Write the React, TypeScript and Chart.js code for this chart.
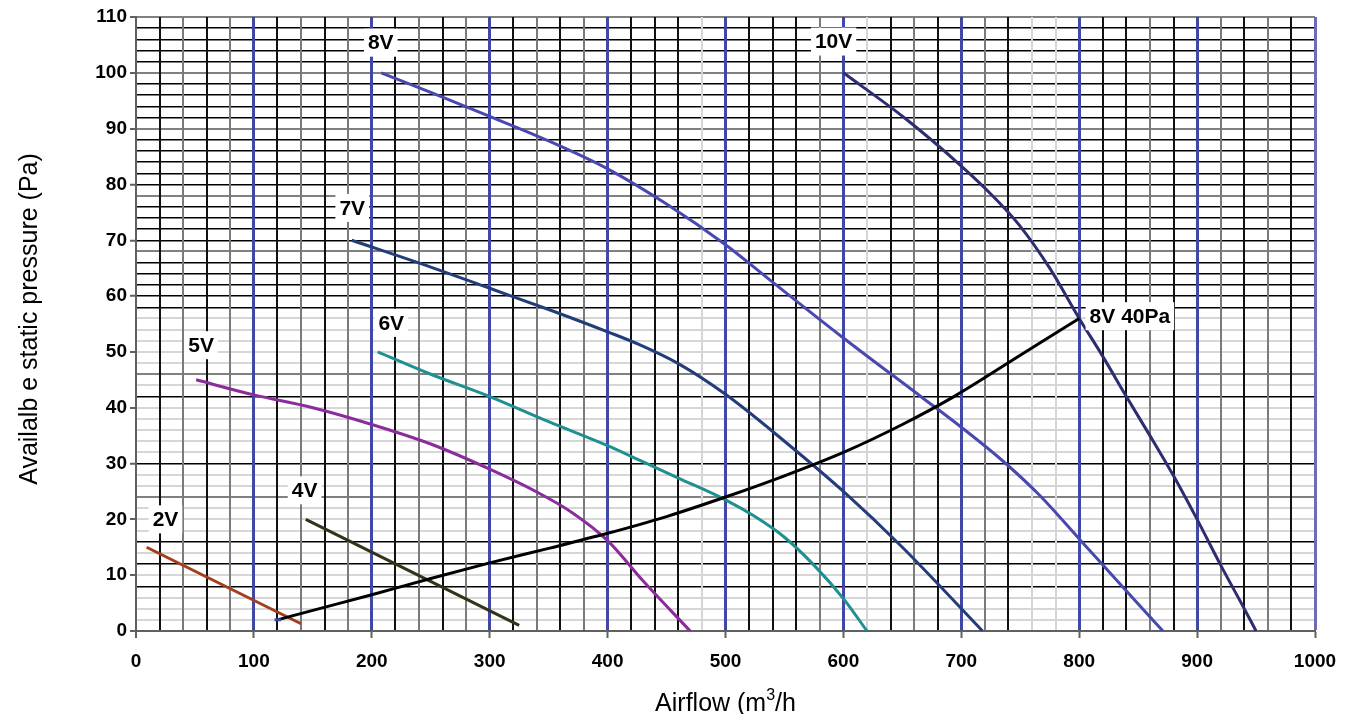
import React, { useEffect, useRef } from "react";
import { Chart, registerables } from "chart.js";

Chart.register(...registerables);

// ---- Axis ranges / ticks ----
const X_MIN = 0;
const X_MAX = 1000;
const X_STEP = 20;
const X_LABEL_EVERY = 100;
const Y_MIN = 0;
const Y_MAX = 110;
const Y_STEP = 2;
const Y_LABEL_EVERY = 10;

// ---- Series (airflow m3/h, pressure Pa) ----
const V2_X = [9, 140];
const V2_Y = [15, 1.3];

const V4_X = [144, 325];
const V4_Y = [20, 1];

const V5_X = [51, 100, 150, 200, 250, 300, 340, 370, 400, 430, 470];
const V5_Y = [45, 42.3, 40, 37, 33.5, 29, 24.9, 21.2, 16.2, 9, 0];

const V6_X = [205, 250, 300, 350, 400, 427, 460, 500, 525, 550, 575, 600, 620];
const V6_Y = [50, 46, 42, 37.5, 33.2, 30.6, 27.4, 23.5, 20.5, 16.8, 11.8, 5.8, 0];

const V7_X = [183, 250, 300, 350, 400, 427, 460, 500, 550, 600, 650, 718];
const V7_Y = [70, 65.2, 61.4, 57.6, 53.6, 51.3, 47.9, 42.4, 34, 25, 15, 0];

const V8_X = [208, 250, 300, 350, 400, 450, 500, 537, 600, 667, 700, 735, 766, 800, 836, 871];
const V8_Y = [100, 96.5, 92.2, 87.8, 82.8, 76.5, 69.2, 63, 52.5, 41.8, 36.5, 30.5, 24.4, 16.5, 8.1, 0];

const V10_X = [600, 652, 700, 725, 750, 775, 800, 820, 840, 860, 880, 900, 920, 940, 950];
const V10_Y = [100, 91.9, 83.3, 78.3, 72.5, 65, 56, 49.2, 42, 35, 27.8, 20, 11.8, 4, 0];

const SYS_X = [120, 150, 200, 250, 300, 350, 400, 450, 500, 550, 600, 650, 693, 750, 800];
const SYS_Y = [2, 3.7, 6.5, 9.4, 12.2, 14.8, 17.5, 20.5, 24, 27.8, 32, 37, 41.9, 49.4, 56];

const SYS_START_X = [117.5, 123];
const SYS_START_Y = [2, 2];

// ---- Curve labels (anchored in data units) ----
const LABEL_TEXT = ["2V", "4V", "5V", "6V", "7V", "8V", "10V", "8V 40Pa"];
const LABEL_X = [25, 143, 55.2, 216.5, 183.4, 207.6, 591.7, 843];
const LABEL_Y = [20, 25.2, 51.2, 55.2, 75.8, 105.4, 105.6, 56.4];

// ---- Axis titles ----
const X_TITLE_MAIN = "Airflow (m";
const X_TITLE_SUP = "3";
const X_TITLE_END = "/h";
const Y_TITLE = "Availalb e static pressure (Pa)";

// ---- Grid styling tables ----
const V_BLACK = [20, 60, 120, 160, 220, 260, 320, 360, 420, 440, 460, 520, 540, 560, 640, 680, 740, 820, 840, 880, 940, 980];
const V_GRAY = [40, 80, 140, 180, 240, 280, 340, 380, 580, 660, 720, 860, 920, 960];
const H_GRAY = [110, 100, 90, 78, 68, 46, 24];
const H_BLACK_LOW = [42, 30, 16, 12, 8];
const H_BLACK_FROM = 58;

const FONT = '"Liberation Sans", Arial, Helvetica, sans-serif';
const BLUE = "#4047A6";

const pts = (xs: number[], ys: number[]) => xs.map((x, i) => ({ x, y: ys[i] }));

function vGridColor(v: number) {
  if (v === 0) return "#606060";
  if (v === 1000) return "#6C6CB4";
  if (v % 100 === 0) return BLUE;
  if (V_BLACK.includes(v)) return "#111111";
  if (V_GRAY.includes(v)) return "#7A7A7A";
  return "#D6D6D6";
}
function vGridWidth(v: number) {
  if (v % 100 === 0 && v !== 0) return 3;
  return 2;
}
function hGridColor(v: number) {
  if (v === 0) return "#606060";
  if (H_GRAY.includes(v)) return "#808080";
  if (v >= H_BLACK_FROM) return "#000000";
  if (H_BLACK_LOW.includes(v)) return "#000000";
  return "#D6D6D6";
}
function hGridWidth(v: number) {
  if (H_GRAY.includes(v)) return 2;
  if (v >= H_BLACK_FROM || H_BLACK_LOW.includes(v)) return 1.5;
  return 2;
}

const labelPlugin = {
  id: "curveLabels",
  afterDatasetsDraw(chart: any) {
    const { ctx, scales } = chart;
    const xs = scales.x;
    const ys = scales.y;
    ctx.save();
    ctx.font = `bold 21px ${FONT}`;
    ctx.textAlign = "center";
    ctx.textBaseline = "middle";
    LABEL_TEXT.forEach((t, i) => {
      const px = xs.getPixelForValue(LABEL_X[i]);
      const py = ys.getPixelForValue(LABEL_Y[i]);
      const w = ctx.measureText(t).width + 8;
      const h = 28;
      ctx.fillStyle = "#ffffff";
      ctx.fillRect(px - w / 2, py - h / 2, w, h);
      ctx.fillStyle = "#000000";
      ctx.fillText(t, px, py + 1);
    });
    ctx.restore();
  },
};

const titlePlugin = {
  id: "axisTitles",
  afterDraw(chart: any) {
    const { ctx, chartArea } = chart;
    ctx.save();
    ctx.fillStyle = "#000000";
    ctx.textBaseline = "middle";
    ctx.textAlign = "left";
    const mainFont = `25px ${FONT}`;
    const supFont = `16px ${FONT}`;
    ctx.font = mainFont;
    const w1 = ctx.measureText(X_TITLE_MAIN).width;
    const w3 = ctx.measureText(X_TITLE_END).width;
    ctx.font = supFont;
    const w2 = ctx.measureText(X_TITLE_SUP).width;
    const total = w1 + w2 + w3;
    const cx = (chartArea.left + chartArea.right) / 2;
    const cy = 696;
    let sx = cx - total / 2;
    ctx.font = mainFont;
    ctx.fillText(X_TITLE_MAIN, sx, cy);
    sx += w1;
    ctx.font = supFont;
    ctx.fillText(X_TITLE_SUP, sx, cy - 8);
    sx += w2;
    ctx.font = mainFont;
    ctx.fillText(X_TITLE_END, sx, cy);
    ctx.translate(22, 311);
    ctx.rotate(-Math.PI / 2);
    ctx.textAlign = "center";
    ctx.font = mainFont;
    ctx.fillText(Y_TITLE, 0, 0);
    ctx.restore();
  },
};

export default function App() {
  const canvasRef = useRef<HTMLCanvasElement | null>(null);

  useEffect(() => {
    if (!canvasRef.current) return;
    const line = (data: any[], color: string, curved: boolean) => ({
      data,
      borderColor: color,
      backgroundColor: color,
      borderWidth: 3,
      pointRadius: 0,
      fill: false,
      tension: curved ? 0.4 : 0,
      cubicInterpolationMode: curved ? "monotone" : "default",
    });
    const chart = new Chart(canvasRef.current, {
      type: "line",
      data: {
        datasets: [
          line(pts(SYS_START_X, SYS_START_Y), BLUE, false),
          line(pts(SYS_X, SYS_Y), "#000000", true),
          line(pts(V2_X, V2_Y), "#A23E1E", false),
          line(pts(V4_X, V4_Y), "#33331A", false),
          line(pts(V5_X, V5_Y), "#8A2C9A", true),
          line(pts(V6_X, V6_Y), "#1F8F8F", true),
          line(pts(V7_X, V7_Y), "#233D7A", true),
          line(pts(V8_X, V8_Y), "#4848B0", true),
          line(pts(V10_X, V10_Y), "#2D2D72", true),
        ] as any,
      },
      plugins: [labelPlugin, titlePlugin],
      options: {
        animation: false,
        responsive: false,
        maintainAspectRatio: false,
        layout: { padding: { left: 0, right: 25, top: 9, bottom: 0 } },
        plugins: { legend: { display: false }, tooltip: { enabled: false } },
        scales: {
          x: {
            type: "linear",
            min: X_MIN,
            max: X_MAX,
            afterFit: (s: any) => {
              s.height = 83;
              s.paddingLeft = 0;
              s.paddingRight = 0;
            },
            ticks: {
              stepSize: X_STEP,
              autoSkip: false,
              maxRotation: 0,
              minRotation: 0,
              padding: 14,
              color: "#000000",
              font: { family: FONT, size: 19, weight: "bold", lineHeight: 1 },
              callback: (v: any) => (Number(v) % X_LABEL_EVERY === 0 ? String(v) : ""),
            },
            grid: {
              z: -0.5,
              color: (c: any) => vGridColor(c.tick ? c.tick.value : 0),
              lineWidth: (c: any) => vGridWidth(c.tick ? c.tick.value : 0),
              tickLength: 7,
              tickWidth: 2,
              tickColor: (c: any) =>
                c.tick && c.tick.value % X_LABEL_EVERY === 0 ? "#606060" : "rgba(0,0,0,0)",
            },
            border: { display: true, color: "#606060", width: 2 },
          } as any,
          y: {
            type: "linear",
            min: Y_MIN,
            max: Y_MAX,
            afterFit: (s: any) => {
              s.width = 128;
              s.paddingTop = 0;
              s.paddingBottom = 0;
            },
            ticks: {
              stepSize: Y_STEP,
              autoSkip: false,
              padding: 3,
              color: "#000000",
              font: { family: FONT, size: 19, weight: "bold", lineHeight: 1 },
              callback: (v: any) => (Number(v) % Y_LABEL_EVERY === 0 ? String(v) : ""),
            },
            grid: {
              z: -1,
              color: (c: any) => hGridColor(c.tick ? c.tick.value : 0),
              lineWidth: (c: any) => hGridWidth(c.tick ? c.tick.value : 0),
              tickLength: 6,
              tickWidth: 2,
              tickColor: (c: any) =>
                c.tick && c.tick.value % Y_LABEL_EVERY === 0 ? "#606060" : "rgba(0,0,0,0)",
            },
            border: { display: true, color: "#606060", width: 2 },
          } as any,
        },
      },
    });
    return () => chart.destroy();
  }, []);

  return (
    <div style={{ width: 1332, height: 706 }}>
      <canvas ref={canvasRef} width={1332} height={706} style={{ display: "block" }} />
    </div>
  );
}
